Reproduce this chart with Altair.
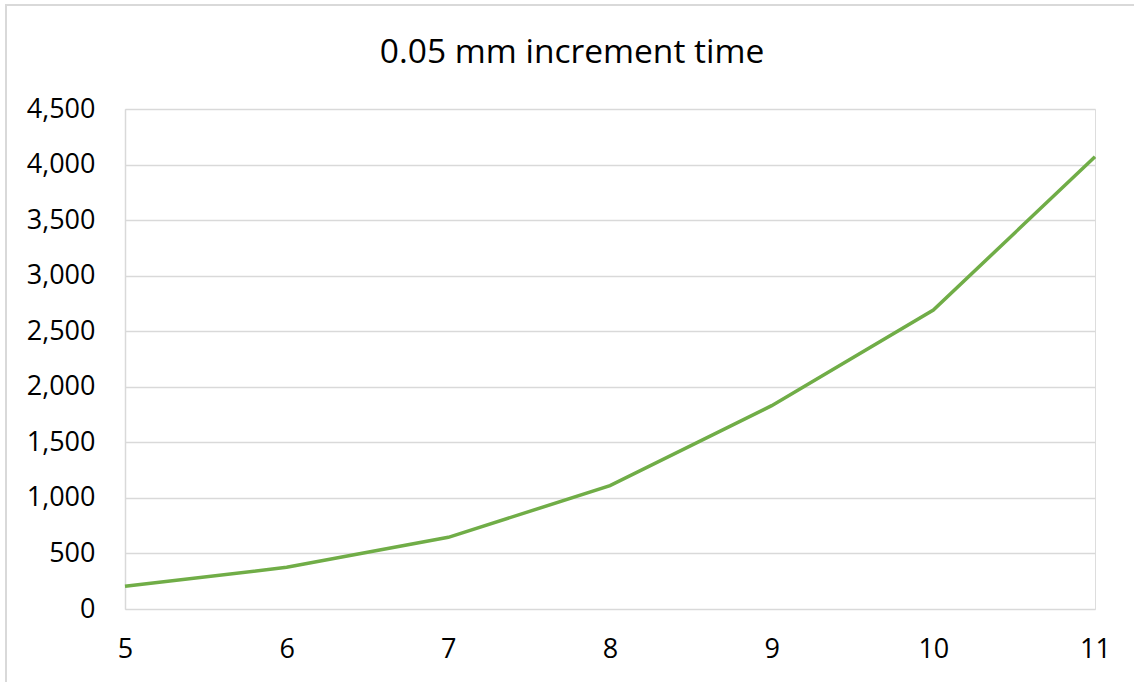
import altair as alt
import pandas as pd

x_vals = [5, 6, 7, 8, 9, 10, 11]
y_vals = [205, 375, 645, 1110, 1830, 2690, 4070]
title_text = "0.05 mm increment time"

df = pd.DataFrame({"x": x_vals, "y": y_vals})

FONT = "Open Sans"

line = alt.Chart(df).mark_line(color="#70AD47", strokeWidth=3.5).encode(
    x=alt.X("x:Q", scale=alt.Scale(domain=[5, 11], nice=False, zero=False),
            axis=alt.Axis(values=x_vals, title=None, grid=False, ticks=False,
                          domain=False, labelFontSize=27, labelFont=FONT,
                          labelColor="#000000", labelPadding=27, format="d",
                          labelFlush=False)),
    y=alt.Y("y:Q", scale=alt.Scale(domain=[0, 4500], nice=False),
            axis=alt.Axis(values=list(range(0, 4501, 500)), title=None,
                          grid=True, gridColor="#D9D9D9", gridWidth=1.5,
                          ticks=False, domain=True, domainColor="#D9D9D9",
                          domainWidth=1.5, labelFontSize=27, labelFont=FONT,
                          labelColor="#000000", labelPadding=30,
                          format=",.0f")),
)

border = alt.Chart(pd.DataFrame({"a": [0]})).mark_rect(
    fill=None, stroke="#D9D9D9", strokeWidth=2, clip=False
).encode(
    x=alt.value(-119), x2=alt.value(1200),
    y=alt.value(-104), y2=alt.value(800),
)

title = alt.Chart(pd.DataFrame({"t": [title_text]})).mark_text(
    font=FONT, fontSize=33.5, color="#000000", align="center",
    baseline="alphabetic", clip=False
).encode(
    text="t:N", x=alt.value(447), y=alt.value(-46),
)

chart = alt.layer(border, line, title).properties(
    width=970, height=500,
    padding={"left": 125, "top": 109, "right": 39, "bottom": 73},
    autosize=alt.AutoSizeParams(type="none"),
).configure_view(stroke=None).configure(background="#FFFFFF")

chart.save("out.html", embed_options={"renderer": "svg", "actions": False})
